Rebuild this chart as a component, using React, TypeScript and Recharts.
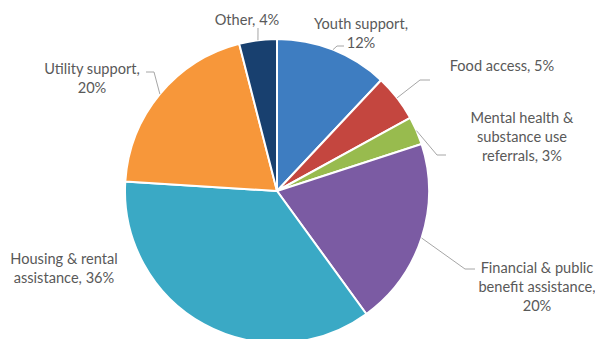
import { PieChart, Pie, Cell } from 'recharts'

const categories = [
  'Youth support',
  'Food access',
  'Mental health & substance use referrals',
  'Financial & public benefit assistance',
  'Housing & rental assistance',
  'Utility support',
  'Other',
]
const shares = [12, 5, 3, 20, 36, 20, 4]
const labelLines = [
  ['Youth support,', '12%'],
  ['Food access, 5%'],
  ['Mental health &', 'substance use', 'referrals, 3%'],
  ['Financial & public', 'benefit assistance,', '20%'],
  ['Housing & rental', 'assistance, 36%'],
  ['Utility support,', '20%'],
  ['Other, 4%'],
]

const COLORS = ['#3E7DC1', '#C4463F', '#98BB4E', '#7B5BA3', '#3AA9C5', '#F7973A', '#18406F']

// where each label sits, plus the leader elbow / end (null = no leader)
const LAYOUT = [
  { x: 361, y: 23, elbow: [337, 46], end: [344, 46] },
  { x: 502, y: 65, elbow: [420, 80], end: [430, 80] },
  { x: 522, y: 117, elbow: [437, 155], end: [446, 155] },
  { x: 537, y: 267, elbow: [465, 269], end: [475, 269] },
  { x: 64, y: 258, elbow: null, end: null },
  { x: 92, y: 68, elbow: [154, 72], end: [146, 72] },
  { x: 247, y: 19, elbow: [258, 28], end: [258, 28] },
]

const data = categories.map((name, i) => ({ name, value: shares[i] }))

const RAD = Math.PI / 180

function renderLabel(props: any) {
  const { cx, cy, midAngle, outerRadius, index } = props
  const lay = LAYOUT[index]
  const sx = cx + outerRadius * Math.cos(-midAngle * RAD)
  const sy = cy + outerRadius * Math.sin(-midAngle * RAD)
  const lines = labelLines[index]
  return (
    <g key={index}>
      {lay.elbow && (
        <polyline
          points={`${sx},${sy} ${lay.elbow[0]},${lay.elbow[1]} ${lay.end![0]},${lay.end![1]}`}
          fill="none"
          stroke="#A6A6A6"
          strokeWidth={1}
        />
      )}
      <text x={lay.x} y={lay.y} textAnchor="middle" fill="#595959" fontSize={14.6} fontFamily="Lato, 'Open Sans', sans-serif">
        {lines.map((l, j) => (
          <tspan key={j} x={lay.x} y={lay.y + j * 19} dominantBaseline="central">{l}</tspan>
        ))}
      </text>
    </g>
  )
}

export default function App() {
  return (
    <div style={{ position: 'absolute', left: 0, top: 0, width: 595, height: 339, background: '#fff' }}>
      <PieChart width={595} height={339} margin={{ top: 0, right: 0, bottom: 0, left: 0 }}>
        <Pie
          data={data}
          dataKey="value"
          nameKey="name"
          cx={277}
          cy={191}
          outerRadius={152}
          startAngle={90}
          endAngle={-270}
          stroke="#fff"
          strokeWidth={2}
          label={renderLabel}
          labelLine={false}
          isAnimationActive={false}
        >
          {data.map((_, i) => <Cell key={i} fill={COLORS[i]} />)}
        </Pie>
      </PieChart>
    </div>
  )
}
